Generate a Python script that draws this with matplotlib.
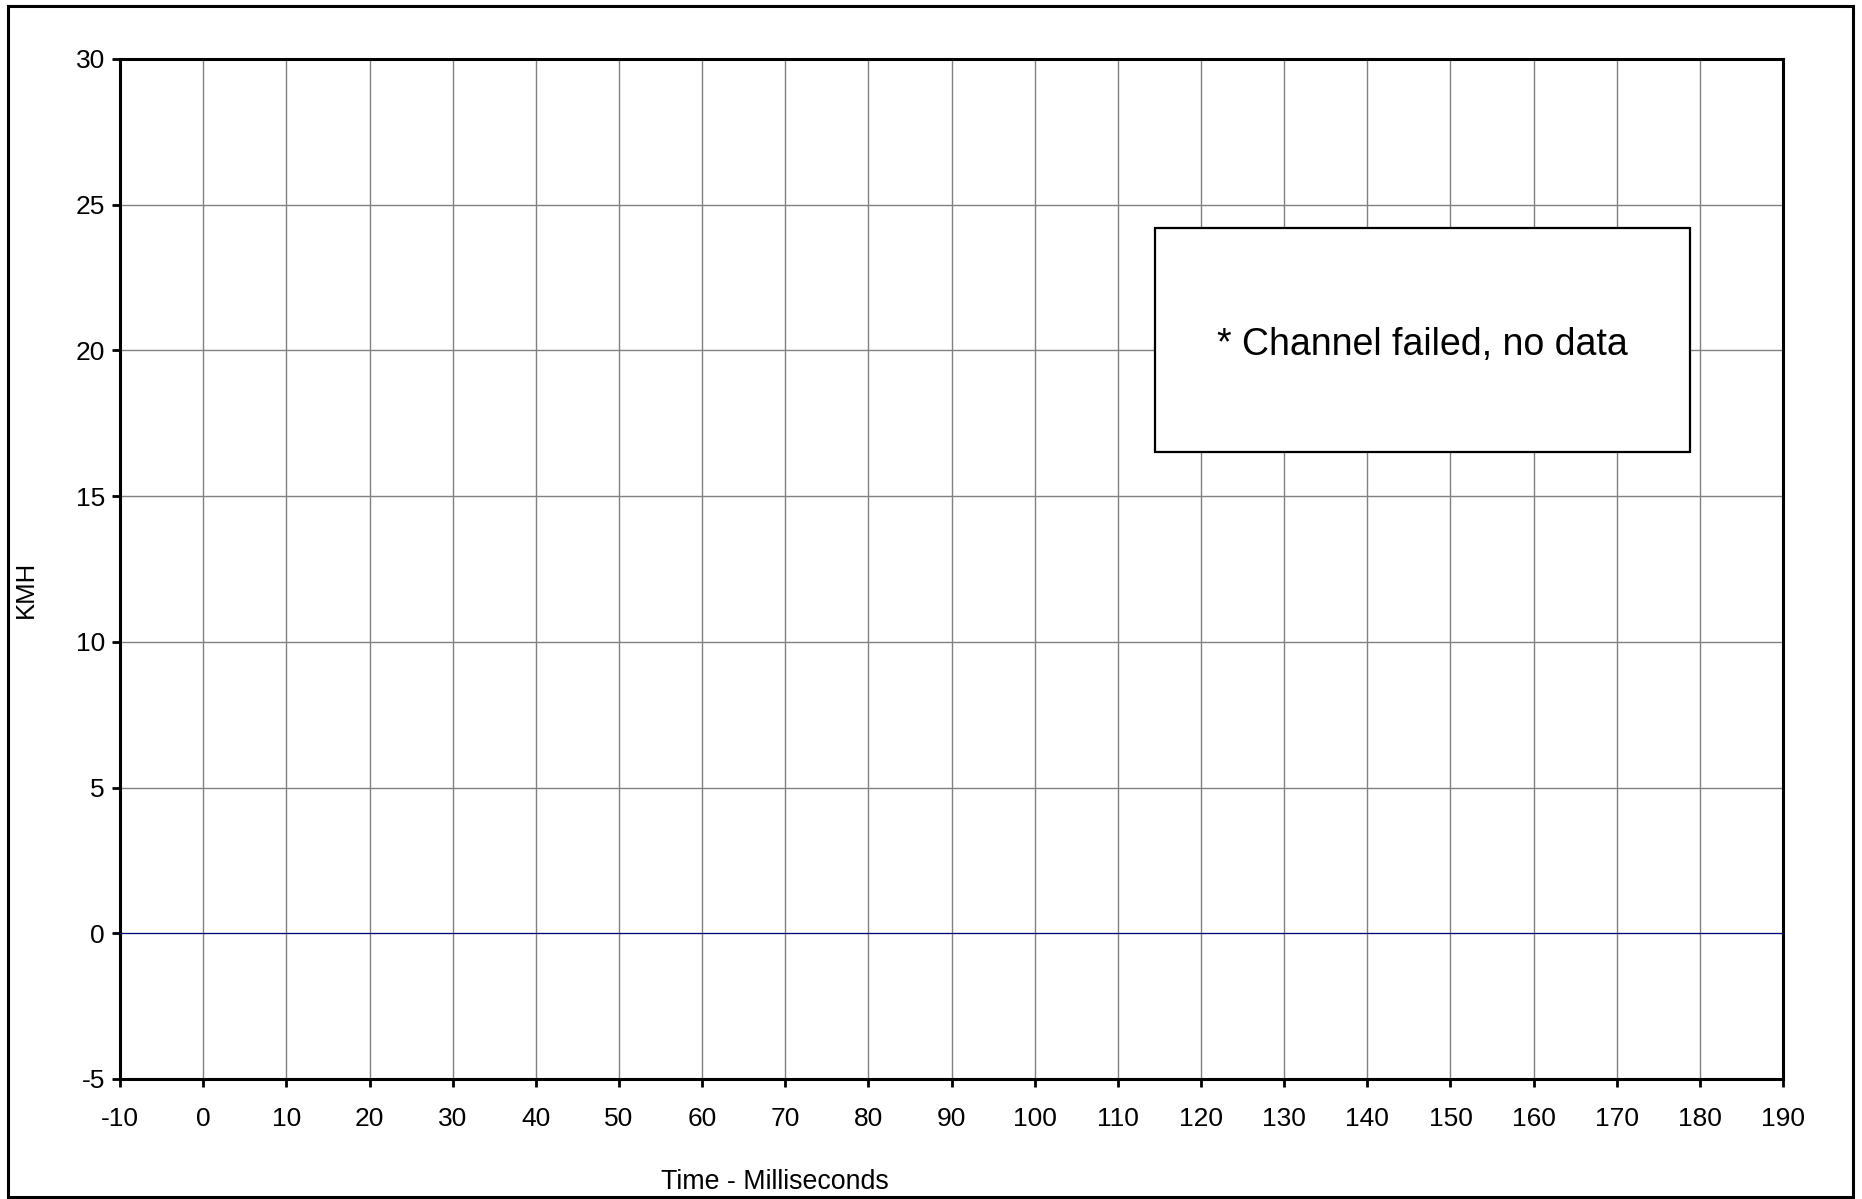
import matplotlib
matplotlib.use('Agg')
import matplotlib.pyplot as plt
from matplotlib.patches import Rectangle

plt.rcParams['font.family'] = ['Liberation Sans', 'DejaVu Sans']
plt.rcParams['axes.unicode_minus'] = False

# channel failed -> flat zero trace
time_ms = [-10, 0, 10, 20, 30, 40, 50, 60, 70, 80, 90, 100,
           110, 120, 130, 140, 150, 160, 170, 180, 190]
speed_kmh = [0, 0, 0, 0, 0, 0, 0, 0, 0, 0, 0, 0,
             0, 0, 0, 0, 0, 0, 0, 0, 0]
x_ticks = time_ms
y_ticks = [-5, 0, 5, 10, 15, 20, 25, 30]
note = '* Channel failed, no data'

fig = plt.figure(figsize=(18.62, 11.99), dpi=100)
ax = fig.add_axes([0.0645, 0.1001, 0.8931, 0.8507])

ax.plot(time_ms, speed_kmh, color='#000080', linewidth=0.8, zorder=3)

ax.set_xlim(-10, 190)
ax.set_ylim(-5, 30)
ax.set_xticks(x_ticks)
ax.set_yticks(y_ticks)
ax.grid(True, color='#808080', linewidth=1.0)
ax.set_axisbelow(True)
ax.tick_params(axis='both', direction='out', length=6, width=2, labelsize=19)
ax.tick_params(axis='x', pad=14)
ax.tick_params(axis='y', pad=5)
for side in ['left', 'bottom', 'top', 'right']:
    ax.spines[side].set_linewidth(2.2)

ax.set_ylabel('KMH', fontsize=18.5)
ax.yaxis.set_label_coords(-0.0495, 0.48)
fig.text(775 / 1862, 1 - 1182 / 1199, 'Time - Milliseconds', fontsize=19.3,
         ha='center', va='center')

# note box
ax.add_patch(Rectangle((114.5, 16.5), 64.3, 7.7, facecolor='white',
                       edgecolor='black', linewidth=1.6, zorder=4))
ax.text(146.6, 20.2, note, fontsize=27, ha='center', va='center', zorder=5)

# outer frame
fig.add_artist(Rectangle((8 / 1862, 2 / 1199), 1845 / 1862, 1191 / 1199,
                         transform=fig.transFigure, fill=False,
                         edgecolor='black', linewidth=2.2))

fig.savefig('out.png', dpi=100)
